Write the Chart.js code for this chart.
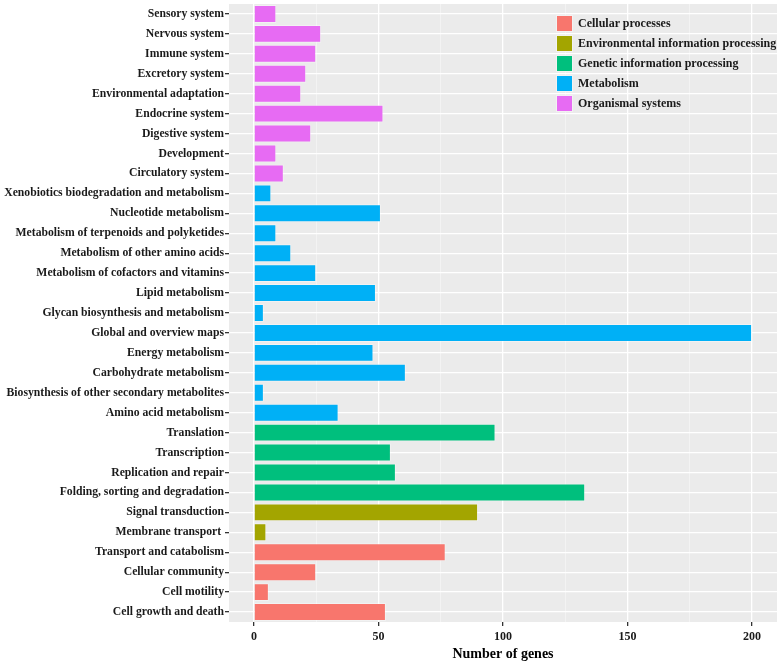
<!DOCTYPE html>
<html>
<head>
<meta charset="utf-8">
<script src="https://cdn.jsdelivr.net/npm/chart.js@4.4.1/dist/chart.umd.min.js"></script>
<style>
  html, body { margin: 0; padding: 0; background: #fff; }
  #wrap { position: relative; width: 778px; height: 661px; }
  #legend { position: absolute; left: 556px; top: 13px; font-family: "Liberation Serif", "Times New Roman", serif; font-weight: bold; font-size: 12px; color: #1a1a1a; }
  .li { display: flex; align-items: center; height: 20px; }
  .key { width: 17px; height: 17px; margin-right: 5px; box-sizing: border-box; border: 1px solid #f2f2f2; }
</style>
</head>
<body>
<div id="wrap">
  <canvas id="c" width="778" height="661"></canvas>
  <div id="legend"></div>
</div>
<script>
const categories = [
  "Sensory system", "Nervous system", "Immune system", "Excretory system",
  "Environmental adaptation", "Endocrine system", "Digestive system", "Development",
  "Circulatory system", "Xenobiotics biodegradation and metabolism", "Nucleotide metabolism",
  "Metabolism of terpenoids and polyketides", "Metabolism of other amino acids",
  "Metabolism of cofactors and vitamins", "Lipid metabolism", "Glycan biosynthesis and metabolism",
  "Global and overview maps", "Energy metabolism", "Carbohydrate metabolism",
  "Biosynthesis of other secondary metabolites", "Amino acid metabolism", "Translation",
  "Transcription", "Replication and repair", "Folding, sorting and degradation",
  "Signal transduction", "Membrane transport ", "Transport and catabolism",
  "Cellular community", "Cell motility", "Cell growth and death"
];
const values = [
  9, 27, 25, 21, 19, 52, 23, 9, 12,
  7, 51, 9, 15, 25, 49, 4, 200, 48, 61, 4, 34,
  97, 55, 57, 133,
  90, 5,
  77, 25, 6, 53
];
const groupOf = [
  4, 4, 4, 4, 4, 4, 4, 4, 4,
  3, 3, 3, 3, 3, 3, 3, 3, 3, 3, 3, 3,
  2, 2, 2, 2,
  1, 1,
  0, 0, 0, 0
];
const groupNames = ["Cellular processes", "Environmental information processing", "Genetic information processing", "Metabolism", "Organismal systems"];
const groupColors = ["#F8766D", "#A3A500", "#00BF7D", "#00B0F6", "#E76BF3"];
const xTicks = [0, 50, 100, 150, 200];
const xMinorTicks = [25, 75, 125, 175];

const datasets = groupNames.map((name, g) => ({
  label: name,
  data: values.map((v, i) => groupOf[i] === g ? v : null),
  backgroundColor: groupColors[g],
  borderColor: "rgba(255,255,255,0.35)",
  borderWidth: 1,
  grouped: false,
  categoryPercentage: 0.9,
  barPercentage: 1.0
}));

// HTML legend
const legendEl = document.getElementById("legend");
groupNames.forEach((n, g) => {
  const row = document.createElement("div");
  row.className = "li";
  const k = document.createElement("div");
  k.className = "key";
  k.style.background = groupColors[g];
  const t = document.createElement("span");
  t.textContent = n;
  row.appendChild(k); row.appendChild(t);
  legendEl.appendChild(row);
});

const panelBg = {
  id: "panelBg",
  beforeDraw(chart) {
    const { ctx, chartArea: a } = chart;
    ctx.save();
    ctx.fillStyle = "#EBEBEB";
    ctx.fillRect(a.left, a.top, a.right - a.left, a.bottom - a.top);
    ctx.restore();
  }
};

const serif = "'Liberation Serif', 'Times New Roman', serif";
const allX = xTicks.concat(xMinorTicks).sort((a, b) => a - b);

new Chart(document.getElementById("c"), {
  type: "bar",
  data: { labels: categories, datasets },
  plugins: [panelBg],
  options: {
    indexAxis: "y",
    responsive: false,
    animation: false,
    layout: { padding: { top: 4, right: 1, left: 0, bottom: 0 } },
    plugins: { legend: { display: false }, tooltip: { enabled: false } },
    scales: {
      x: {
        min: -10, max: 210,
        afterBuildTicks(s) { s.ticks = allX.map(v => ({ value: v })); },
        afterFit(s) { s.height = 39; s.paddingLeft = 0; s.paddingRight = 0; },
        border: { display: false },
        grid: {
          color: c => (c.tick && c.tick.value % 50 === 0) ? "#FFFFFF" : "#F6F6F6",
          lineWidth: c => (c.tick && c.tick.value % 50 === 0) ? 1.3 : 0.7,
          tickColor: c => (c.tick && c.tick.value % 50 === 0) ? "#333333" : "rgba(0,0,0,0)",
          tickLength: 4,
          drawOnChartArea: true
        },
        ticks: {
          autoSkip: false,
          maxRotation: 0,
          padding: 4,
          color: "#1a1a1a",
          font: { family: serif, weight: "bold", size: 12 },
          callback: v => (v % 50 === 0 ? String(v) : "")
        },
        title: {
          display: true,
          text: "Number of genes",
          color: "#000",
          font: { family: serif, weight: "bold", size: 14, lineHeight: 1 },
          padding: { top: 0, bottom: 0 }
        }
      },
      y: {
        afterFit(s) { s.width = 229; s.paddingTop = 0; s.paddingBottom = 0; },
        border: { display: false },
        grid: {
          color: "#FFFFFF",
          lineWidth: 1.3,
          tickColor: "#333333",
          tickLength: 4,
          offset: false
        },
        ticks: {
          autoSkip: false,
          padding: 1,
          color: "#1a1a1a",
          font: { family: serif, weight: "bold", size: 11.7 }
        }
      }
    }
  }
});
</script>
</body>
</html>
